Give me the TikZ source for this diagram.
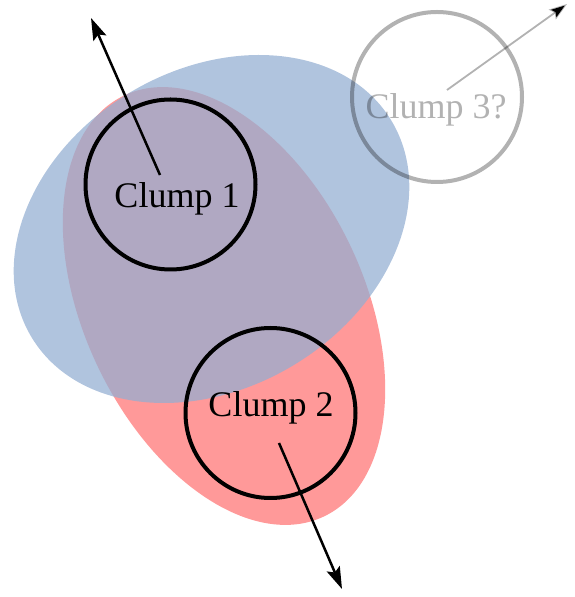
\documentclass[tikz,border=0pt]{standalone}
\usepackage{fontspec}
\setmainfont{Liberation Serif}
\usetikzlibrary{arrows.meta}
\definecolor{redfill}{RGB}{255,153,153}
\definecolor{bluefill}{RGB}{147,174,210}
\tikzset{
  clump/.style={circle, draw=black, line width=4pt, inner sep=0pt, minimum size=170pt},
  ghost/.style={circle, draw=black, draw opacity=0.3, line width=4pt, inner sep=0pt, minimum size=170pt},
  lbl/.style={anchor=base, inner sep=0pt, font=\fontsize{36}{40}\selectfont},
  motion/.style={line width=2.5pt, -{Stealth[length=22pt, width=14pt, inset=4pt]}},
  ghostmotion/.style={line width=1.8pt, draw opacity=0.3, -{Stealth[length=18pt, width=12pt, inset=3pt]}}
}
\begin{document}
\begin{tikzpicture}[x=1pt, y=1pt]
\useasboundingbox (0,0) rectangle (574,597);
% red ellipse
\fill[redfill, rotate around={-64.6:(224,291)}] (224,291) ellipse [x radius=233pt, y radius=140pt];
% blue ellipse
\fill[bluefill, fill opacity=0.73, rotate around={31:(211.5,368)}] (211.5,368) ellipse [x radius=210pt, y radius=159pt];
% clumps
\node[clump] (c1) at (170.5,412.5) {};
\node[clump] (c2) at (270.5,184) {};
\node[ghost] (c3) at (437,500) {};
% labels
\node[lbl] (t1) at (177,389) {Clump 1};
\node[lbl] (t2) at (271,180) {Clump 2};
\node[lbl, text opacity=0.3] (t3) at (436,478) {Clump 3?};
% arrows
\coordinate (s1) at (160,422);
\coordinate (e1) at (91,579);
\coordinate (s2) at (279,154);
\coordinate (e2) at (342,8);
\coordinate (s3) at (447,507);
\coordinate (e3) at (567,593);
\draw[motion] (s1) -- (e1);
\draw[motion] (s2) -- (e2);
\draw[ghostmotion] (s3) -- (e3);
\end{tikzpicture}
\end{document}
